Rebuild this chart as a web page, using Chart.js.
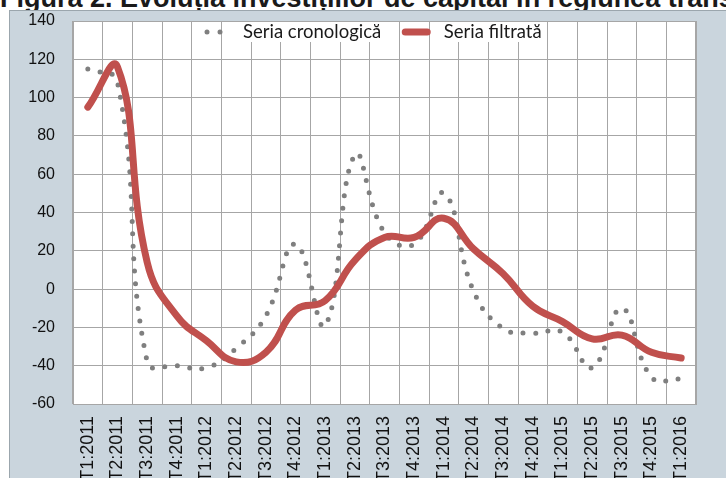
<!DOCTYPE html>
<html>
<head>
<meta charset="utf-8">
<script src="https://cdn.jsdelivr.net/npm/chart.js@4.4.1/dist/chart.umd.min.js"></script>
<style>
  html, body { margin: 0; padding: 0; width: 726px; height: 478px; overflow: hidden; background: #fff; }
  #title {
    position: absolute; left: 0; top: -15.5px; white-space: nowrap;
    font: bold 27px "Liberation Sans", Arial, sans-serif; line-height: 27px; color: #1a1a1a;
  }
  #frame {
    position: absolute; left: 9px; top: 10px; width: 740px; height: 500px;
    background: #cad5dd; border-left: 1px solid #9ba6ad; border-top: 1px solid #9ba6ad;
  }
  #chart { position: absolute; left: 0; top: 0; }
</style>
</head>
<body>
<div id="title">Figura 2. Evoluția investițiilor de capital în regiunea transnistreană</div>
<div id="frame"><canvas id="chart" width="716" height="490"></canvas></div>
<script>
// categorii (trimestre)
const labels = ['T1:2011','T2:2011','T3:2011','T4:2011','T1:2012','T2:2012','T3:2012','T4:2012',
  'T1:2013','T2:2013','T3:2013','T4:2013','T1:2014','T2:2014','T3:2014','T4:2014',
  'T1:2015','T2:2015','T3:2015','T4:2015','T1:2016'];

// Seria cronologica
const seriaCronologica = [115, 108, -38, -40, -41, -31, -14, 23.5, -19, 70, 29.5, 23.5,
  50, -1, -20.5, -23, -22.5, -41, -10, -46, -47];

// Seria filtrata
const seriaFiltrata = [95, 116, 14, -14, -27, -38, -33, -11, -6, 15, 27, 27,
  37, 21, 8, -9, -17, -26, -24, -33, -36];

const yMin = -60, yMax = 140, yStep = 20;

// fundal alb + chenar pentru zona graficului
const plotBg = {
  id: 'plotBg',
  beforeDraw(chart) {
    const a = chart.chartArea, ctx = chart.ctx;
    ctx.save();
    ctx.fillStyle = '#ffffff';
    ctx.fillRect(a.left, a.top, a.right - a.left, a.bottom - a.top);
    ctx.restore();
  },
  afterDraw(chart) {
    const a = chart.chartArea, ctx = chart.ctx;
    ctx.save();
    ctx.strokeStyle = '#a6a6a6';
    ctx.lineWidth = 1;
    ctx.strokeRect(a.left + 0.5, a.top + 0.5, a.right - a.left - 1, a.bottom - a.top);
    ctx.restore();
  }
};

// legenda in interiorul zonei graficului, ca in Excel
const innerLegend = {
  id: 'innerLegend',
  afterDraw(chart) {
    const a = chart.chartArea, ctx = chart.ctx;
    const ds = chart.data.datasets;
    ctx.save();
    ctx.font = '18.5px Lato, "Liberation Sans", sans-serif';
    ctx.textBaseline = 'middle';
    const y = a.top + 11;
    let x = a.left + 134;

    // simbol serie punctata: doua puncte
    ctx.fillStyle = ds[0].borderColor;
    [0, 13].forEach(function(dx) {
      ctx.beginPath();
      ctx.arc(x + dx, y, 2.5, 0, Math.PI * 2);
      ctx.fill();
    });
    x += 36;
    let w = ctx.measureText(ds[0].label).width;
    ctx.fillStyle = '#fff';
    ctx.fillRect(x - 2, y - 10, w + 4, 20);
    ctx.fillStyle = '#1a1a1a';
    ctx.fillText(ds[0].label, x, y);
    x += w + 24;

    // simbol serie filtrata: linie groasa
    ctx.strokeStyle = ds[1].borderColor;
    ctx.lineWidth = 7;
    ctx.lineCap = 'round';
    ctx.beginPath();
    ctx.moveTo(x, y);
    ctx.lineTo(x + 22, y);
    ctx.stroke();
    x += 22 + 16.5;
    w = ctx.measureText(ds[1].label).width;
    ctx.fillStyle = '#fff';
    ctx.fillRect(x - 2, y - 10, w + 4, 20);
    ctx.fillStyle = '#1a1a1a';
    ctx.fillText(ds[1].label, x, y);
    ctx.restore();
  }
};

const config = {
  type: 'line',
  data: {
    labels: labels,
    datasets: [
      {
        label: 'Seria cronologică',
        data: seriaCronologica,
        borderColor: '#7f7f7f',
        borderWidth: 5,
        borderDash: [0, 12.5],
        borderCapStyle: 'round',
        tension: 0.45,
        pointRadius: 0,
        fill: false,
        order: 2
      },
      {
        label: 'Seria filtrată',
        data: seriaFiltrata,
        borderColor: '#c0504d',
        borderWidth: 7,
        borderCapStyle: 'round',
        borderJoinStyle: 'round',
        tension: 0.45,
        pointRadius: 0,
        fill: false,
        order: 1
      }
    ]
  },
  options: {
    responsive: false,
    animation: false,
    devicePixelRatio: 1,
    layout: { padding: { left: 0, top: 10, right: 30, bottom: 0 } },
    plugins: {
      legend: { display: false },
      tooltip: { enabled: false }
    },
    scales: {
      x: {
        type: 'category',
        offset: true,
        grid: { offset: true, color: '#a6a6a6', drawTicks: false },
        border: { color: '#a6a6a6' },
        ticks: {
          autoSkip: false,
          minRotation: 90,
          maxRotation: 90,
          padding: 12,
          color: '#111',
          font: { family: '"Liberation Sans", Arial, sans-serif', size: 18 }
        },
        afterFit: function(scale) { scale.height = 97; }
      },
      y: {
        min: yMin,
        max: yMax,
        grid: { color: '#a6a6a6', drawTicks: false },
        border: { color: '#a6a6a6' },
        ticks: {
          stepSize: yStep,
          padding: 18,
          color: '#111',
          font: { family: '"Liberation Sans", Arial, sans-serif', size: 16 }
        },
        afterFit: function(scale) {
          scale.width = 63;
          // fara spatiu suplimentar sus/jos din cauza padding-ului etichetelor
          scale.paddingTop = 0;
          scale.paddingBottom = 0;
        }
      }
    }
  },
  plugins: [plotBg, innerLegend]
};

const chartInv = new Chart(document.getElementById('chart'), config);
</script>
</body>
</html>
